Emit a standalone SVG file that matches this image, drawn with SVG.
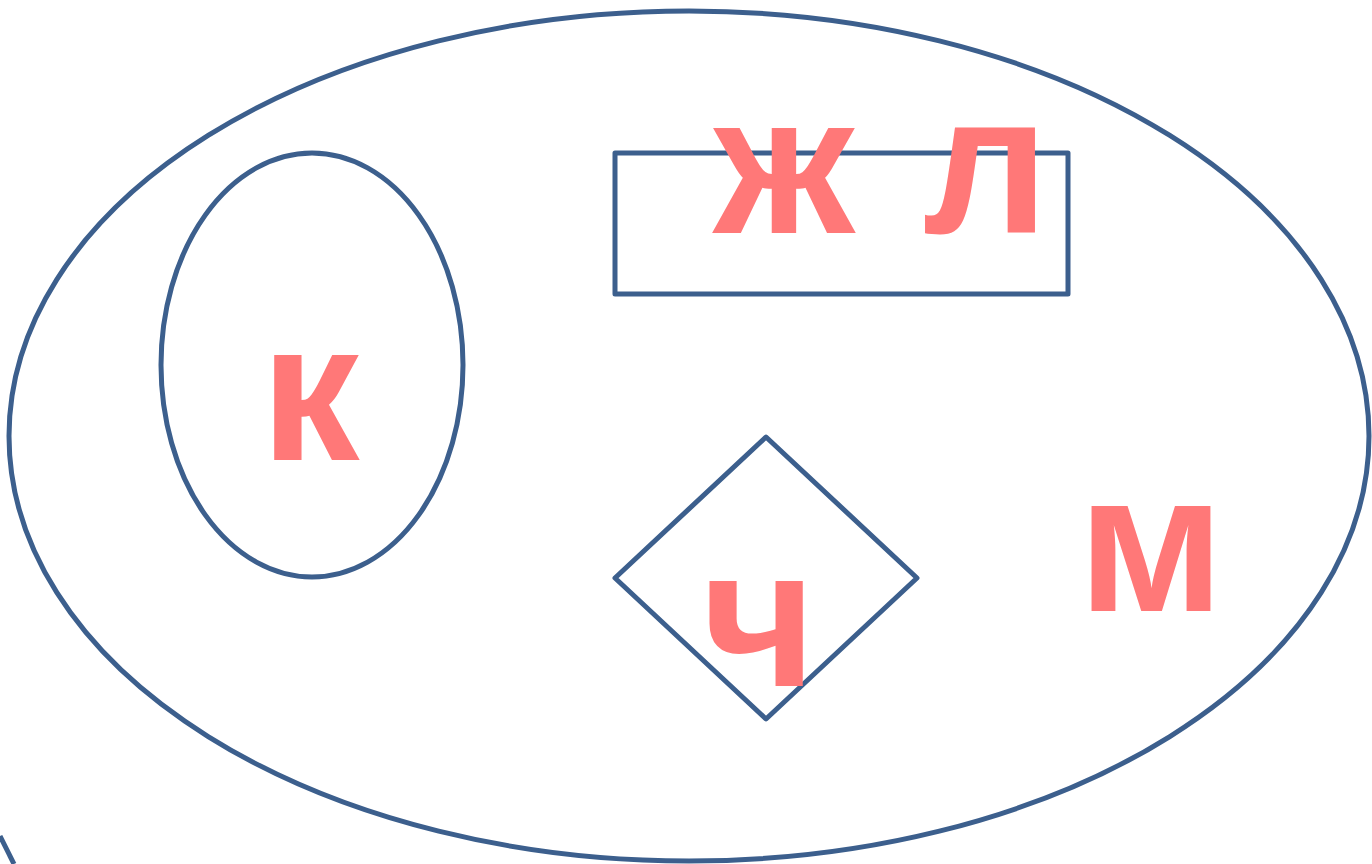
<svg xmlns="http://www.w3.org/2000/svg" width="1372" height="864" viewBox="0 0 1372 864">
<style>
.s{fill:none;stroke:#3C5F8D;stroke-width:5;stroke-linejoin:round}
.t{font-family:"Liberation Sans",Arial,sans-serif;font-weight:bold;font-size:198px;fill:#FF7878}
</style>
<rect width="1372" height="864" fill="#fff"/>
<g id="outer"><ellipse class="s" cx="689" cy="436" rx="680" ry="425"/></g>
<g id="edge-bl"><line class="s" x1="0" y1="836" x2="14" y2="864"/></g>
<g id="node-k"><ellipse class="s" cx="312" cy="365" rx="151" ry="212"/><text class="t" x="310" y="460" text-anchor="middle">к</text></g>
<g id="node-zhl"><rect class="s" x="615" y="153" width="453" height="141"/><text class="t" x="784" y="233" text-anchor="middle">ж</text><text class="t" x="986" y="233" text-anchor="middle">л</text></g>
<g id="node-ch"><polygon class="s" points="766,437 917,578 766,719 615,578"/><text class="t" x="759" y="686" text-anchor="middle">ч</text></g>
<g id="node-m"><text class="t" x="1151" y="611" text-anchor="middle">м</text></g>
</svg>
